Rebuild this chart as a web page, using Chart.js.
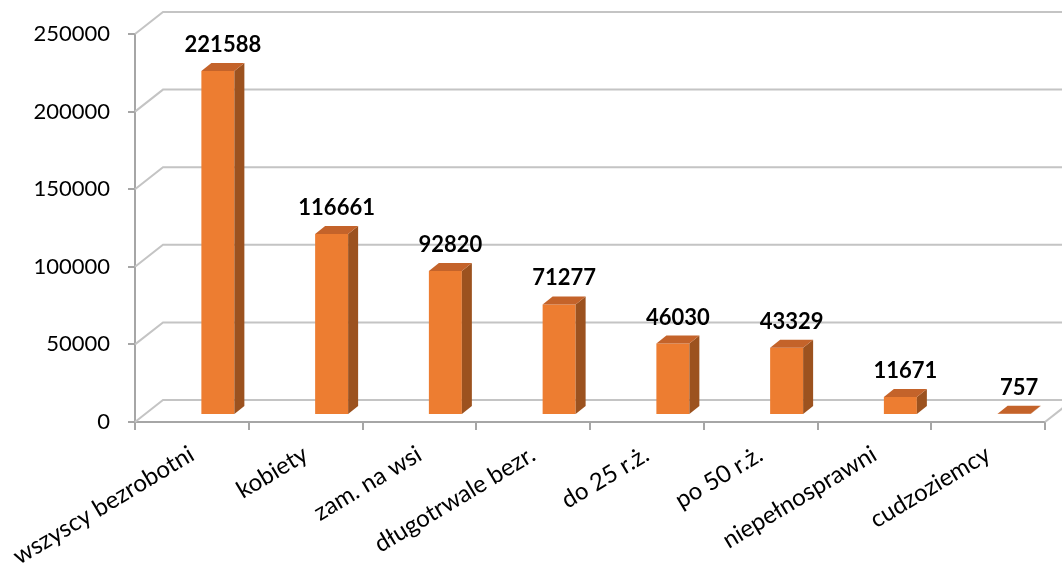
<!DOCTYPE html>
<html>
<head>
<meta charset="utf-8">
<script src="https://cdn.jsdelivr.net/npm/chart.js@4"></script>
<style>
  html, body { margin: 0; padding: 0; background: #fff; }
  #wrap { width: 1062px; height: 567px; }
</style>
</head>
<body>
<div id="wrap"><canvas id="chart" width="1062" height="567"></canvas></div>
<script>
var categories = ['wszyscy bezrobotni', 'kobiety', 'zam. na wsi', 'długotrwale bezr.', 'do 25 r.ż.', 'po 50 r.ż.', 'niepełnosprawni', 'cudzoziemcy'];
var values = [221588, 116661, 92820, 71277, 46030, 43329, 11671, 757];
var yMin = 0, yMax = 250000, yStep = 50000;

// 3d look
var WALL_DX = 28, WALL_DY = -22;   // back wall offset
var BAR_DX = 26, BAR_DY = -7;      // bars sit inside the floor
var FACE_DX = 10, FACE_DY = -8;    // bar depth

var gridColor = '#c4c4c4';
var axisColor = '#a6a6a6';

var threeD = {
    id: 'threeD',
    beforeDatasetsDraw: function (chart) {
        var ctx = chart.ctx, y = chart.scales.y, a = chart.chartArea;
        ctx.save();
        ctx.strokeStyle = gridColor;
        ctx.lineWidth = 2;
        y.ticks.forEach(function (t) {
            var py = y.getPixelForValue(t.value);
            ctx.beginPath();
            ctx.moveTo(a.left, py);
            ctx.lineTo(a.left + WALL_DX, py + WALL_DY);
            ctx.lineTo(chart.width + 20, py + WALL_DY);
            ctx.stroke();
        });
        // right edge of floor
        var p0 = y.getPixelForValue(0);
        ctx.beginPath();
        ctx.moveTo(a.right, p0);
        ctx.lineTo(a.right + WALL_DX, p0 + WALL_DY);
        ctx.stroke();
        ctx.restore();
        ctx.save();
        ctx.translate(BAR_DX, BAR_DY);
    },
    afterDatasetsDraw: function (chart) {
        var ctx = chart.ctx;
        ctx.restore();
        var meta = chart.getDatasetMeta(0);
        ctx.save();
        meta.data.forEach(function (bar, i) {
            var x0 = bar.x - bar.width / 2 + BAR_DX;
            var x1 = bar.x + bar.width / 2 + BAR_DX;
            var yt = bar.y + BAR_DY;
            var yb = bar.base + BAR_DY;
            // side
            ctx.fillStyle = '#9c521f';
            ctx.beginPath();
            ctx.moveTo(x1, yt);
            ctx.lineTo(x1 + FACE_DX, yt + FACE_DY);
            ctx.lineTo(x1 + FACE_DX, yb + FACE_DY);
            ctx.lineTo(x1, yb);
            ctx.closePath();
            ctx.fill();
            // top
            ctx.fillStyle = '#c4632a';
            ctx.beginPath();
            ctx.moveTo(x0, yt);
            ctx.lineTo(x0 + FACE_DX, yt + FACE_DY);
            ctx.lineTo(x1 + FACE_DX, yt + FACE_DY);
            ctx.lineTo(x1, yt);
            ctx.closePath();
            ctx.fill();
            // value label
            ctx.fillStyle = '#000';
            ctx.font = 'bold 22px Lato';
            ctx.textAlign = 'center';
            ctx.textBaseline = 'middle';
            ctx.fillText(String(values[i]), bar.x + BAR_DX + 5, yt - 26);
        });
        ctx.restore();
    }
};

Chart.defaults.font.family = 'Lato';
Chart.defaults.color = '#000';

new Chart(document.getElementById('chart'), {
    type: 'bar',
    data: {
        labels: categories,
        datasets: [{
            data: values,
            backgroundColor: '#ed7d31',
            borderWidth: 0,
            categoryPercentage: 1,
            barPercentage: 0.29
        }]
    },
    options: {
        responsive: false,
        animation: false,
        layout: { padding: { top: 34, right: 17, left: 0, bottom: 0 } },
        plugins: { legend: { display: false }, tooltip: { enabled: false } },
        scales: {
            x: {
                grid: { offset: true, drawOnChartArea: false, tickLength: 8, color: axisColor, lineWidth: 2 },
                border: { color: axisColor, width: 2 },
                ticks: { font: { size: 24 }, minRotation: 31, maxRotation: 31, padding: 10 },
                afterFit: function (s) { s.height = 145; s.paddingLeft = 0; s.paddingRight = 0; }
            },
            y: {
                min: yMin, max: yMax,
                grid: { drawOnChartArea: false, tickLength: 7, color: axisColor, lineWidth: 2 },
                border: { color: axisColor, width: 2 },
                ticks: {
                    stepSize: yStep, font: { size: 22 }, padding: 18,
                    callback: function (v) { return String(v); }
                },
                afterFit: function (s) { s.width = 135; }
            }
        }
    },
    plugins: [threeD]
});
</script>
</body>
</html>
